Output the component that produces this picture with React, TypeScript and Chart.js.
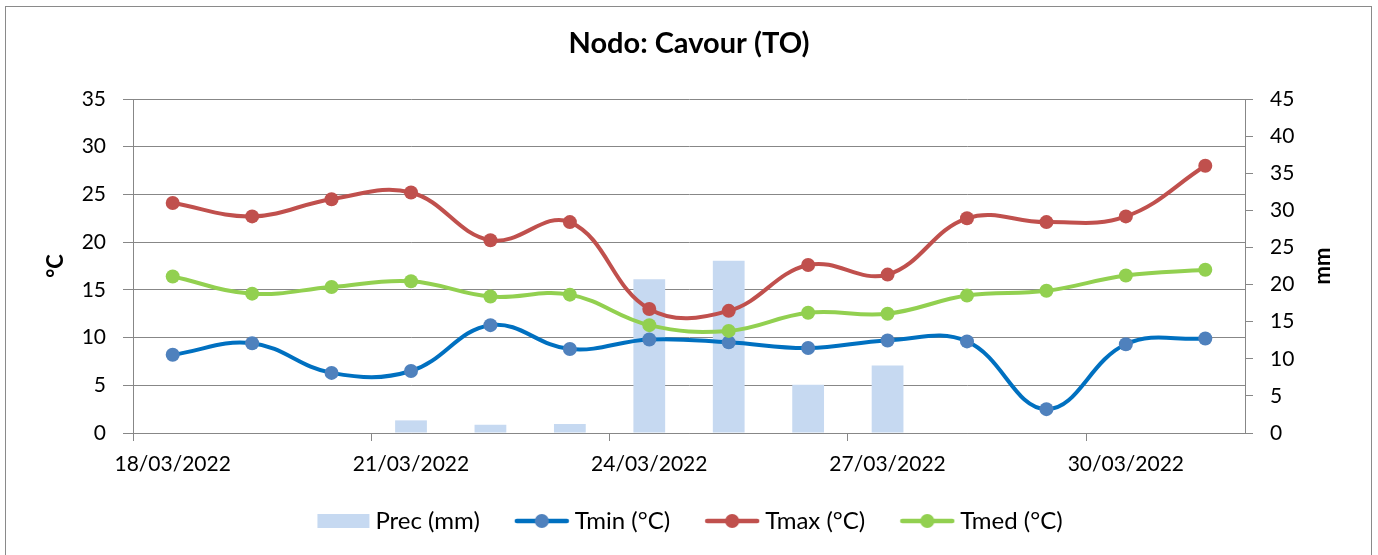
import React, { useEffect, useRef } from 'react';
import { Chart, registerables } from 'chart.js';

Chart.register(...registerables);

// ---- Data ----
const dates = [
  '18/03/2022', '19/03/2022', '20/03/2022', '21/03/2022', '22/03/2022', '23/03/2022', '24/03/2022',
  '25/03/2022', '26/03/2022', '27/03/2022', '28/03/2022', '29/03/2022', '30/03/2022', '31/03/2022',
];
const labelIndices = [0, 3, 6, 9, 12];
const precMm = [0, 0, 0, 1.7, 1.1, 1.2, 20.7, 23.2, 6.5, 9.1, 0, 0, 0, 0];
const tminC = [8.2, 9.4, 6.3, 6.5, 11.3, 8.8, 9.8, 9.5, 8.9, 9.7, 9.6, 2.5, 9.3, 9.9];
const tmaxC = [24.1, 22.7, 24.5, 25.2, 20.2, 22.1, 13.0, 12.8, 17.6, 16.6, 22.5, 22.1, 22.7, 28.0];
const tmedC = [16.4, 14.6, 15.3, 15.9, 14.3, 14.5, 11.3, 10.7, 12.6, 12.5, 14.4, 14.9, 16.5, 17.1];

const titleText = 'Nodo: Cavour (TO)';
const seriesLabels = ['Prec (mm)', 'Tmin (°C)', 'Tmax (°C)', 'Tmed (°C)'];
const leftAxisTitle = '°C';
const rightAxisTitle = 'mm';

// ---- Styles ----
const FONT = 'Lato';
const GRID = '#878787';
const BAR_COLOR = '#C6D9F1';
const TMIN_LINE = '#0070C0';
const TMIN_MARK = '#4F81BD';
const TMAX_LINE = '#C0504D';
const TMAX_MARK = '#C0504D';
const TMED_LINE = '#92D050';
const TMED_MARK = '#92D050';

// legend icon canvas: 62 wide, visible symbol in the right part (offset 6)
function makeLineIcon(line: string, mark: string): HTMLCanvasElement {
  const c = document.createElement('canvas');
  c.width = 62;
  c.height = 22;
  const ctx = c.getContext('2d')!;
  ctx.strokeStyle = line;
  ctx.lineWidth = 4.5;
  ctx.lineCap = 'round';
  ctx.beginPath();
  ctx.moveTo(9, 11);
  ctx.lineTo(59, 11);
  ctx.stroke();
  ctx.fillStyle = mark;
  ctx.beginPath();
  ctx.arc(34, 11, 7, 0, Math.PI * 2);
  ctx.fill();
  return c;
}

function makeBarIcon(color: string): HTMLCanvasElement {
  const c = document.createElement('canvas');
  c.width = 62;
  c.height = 22;
  const ctx = c.getContext('2d')!;
  ctx.fillStyle = color;
  ctx.fillRect(9, 4, 52, 14);
  return c;
}

const toXY = (arr: number[]) => arr.map((v, i) => ({ x: i, y: v }));

export default function App() {
  const canvasRef = useRef<HTMLCanvasElement | null>(null);

  useEffect(() => {
    document.body.style.margin = '0';
    const canvas = canvasRef.current;
    if (!canvas) return;

    const icons = [
      makeBarIcon(BAR_COLOR),
      makeLineIcon(TMIN_LINE, TMIN_MARK),
      makeLineIcon(TMAX_LINE, TMAX_MARK),
      makeLineIcon(TMED_LINE, TMED_MARK),
    ];

    const frame = {
      id: 'frameAndTitles',
      beforeDraw(chart: any) {
        const ctx = chart.ctx;
        ctx.save();
        ctx.fillStyle = '#ffffff';
        ctx.fillRect(0, 0, chart.width, chart.height);
        ctx.strokeStyle = '#8a8a8a';
        ctx.lineWidth = 1;
        ctx.strokeRect(5.5, 6.5, 1366, 600);
        ctx.restore();
      },
      afterDraw(chart: any) {
        const ctx = chart.ctx;
        const area = chart.chartArea;
        const cy = (area.top + area.bottom) / 2;
        ctx.save();
        ctx.fillStyle = '#000';
        ctx.font = `bold 22px ${FONT}`;
        ctx.textAlign = 'center';
        ctx.textBaseline = 'middle';
        ctx.translate(56, cy);
        ctx.rotate(-Math.PI / 2);
        ctx.fillText(leftAxisTitle, 0, 0);
        ctx.restore();
        ctx.save();
        ctx.fillStyle = '#000';
        ctx.font = `bold 22px ${FONT}`;
        ctx.textAlign = 'center';
        ctx.textBaseline = 'middle';
        ctx.translate(1323, cy);
        ctx.rotate(-Math.PI / 2);
        ctx.fillText(rightAxisTitle, 0, 0);
        ctx.restore();
      },
    };

    const tickFont = { family: FONT, size: 21 };
    const lineCommon = {
      type: 'line' as const,
      yAxisID: 'y',
      xAxisID: 'x',
      borderWidth: 4,
      pointRadius: 7,
      pointHoverRadius: 7,
      pointBorderWidth: 0,
      tension: 0.4,
      fill: false,
    };

    const chart = new Chart(canvas, {
      type: 'bar',
      data: {
        datasets: [
          {
            type: 'bar',
            label: seriesLabels[0],
            data: toXY(precMm),
            backgroundColor: BAR_COLOR,
            borderWidth: 0,
            yAxisID: 'y1',
            xAxisID: 'x',
            categoryPercentage: 1,
            barPercentage: 0.4,
            order: 4,
          } as any,
          {
            ...lineCommon,
            label: seriesLabels[1],
            data: toXY(tminC),
            borderColor: TMIN_LINE,
            backgroundColor: TMIN_MARK,
            pointBackgroundColor: TMIN_MARK,
            pointBorderColor: TMIN_MARK,
            order: 3,
          } as any,
          {
            ...lineCommon,
            label: seriesLabels[2],
            data: toXY(tmaxC),
            borderColor: TMAX_LINE,
            backgroundColor: TMAX_MARK,
            pointBackgroundColor: TMAX_MARK,
            pointBorderColor: TMAX_MARK,
            order: 2,
          } as any,
          {
            ...lineCommon,
            label: seriesLabels[3],
            data: toXY(tmedC),
            borderColor: TMED_LINE,
            backgroundColor: TMED_MARK,
            pointBackgroundColor: TMED_MARK,
            pointBorderColor: TMED_MARK,
            order: 1,
          } as any,
        ],
      },
      options: {
        responsive: false,
        animation: false,
        devicePixelRatio: 1,
        layout: { padding: { top: 0, left: 0, right: 0, bottom: 12 } },
        plugins: {
          tooltip: { enabled: false },
          title: {
            display: true,
            text: titleText,
            color: '#000',
            font: { family: FONT, size: 29, weight: 'bold', lineHeight: 1.2 },
            padding: { top: 26, bottom: 38.2 },
          },
          legend: {
            position: 'bottom',
            labels: {
              usePointStyle: true,
              pointStyleWidth: 48,
              padding: 35,
              color: '#000',
              font: { family: FONT, size: 24 },
              sort: (a: any, b: any) => a.datasetIndex - b.datasetIndex,
              generateLabels: (ch: any) => {
                const items = (Chart.defaults.plugins.legend.labels as any).generateLabels(ch);
                return items.map((it: any) => ({ ...it, pointStyle: icons[it.datasetIndex] }));
              },
            },
          },
        },
        scales: {
          x: {
            type: 'linear',
            offset: false,
            min: -0.5,
            max: dates.length - 0.5,
            afterBuildTicks: (scale: any) => {
              scale.ticks = labelIndices.map((i) => ({ value: i - 0.5 }));
            },
            afterFit: (scale: any) => {
              scale.height = 41;
            },
            ticks: {
              autoSkip: false,
              maxRotation: 0,
              minRotation: 0,
              labelOffset: 39.7,
              padding: 11,
              color: '#000',
              font: tickFont,
              callback: (_v: any, i: number) => dates[labelIndices[i]],
            },
            grid: { offset: false, drawOnChartArea: false, drawTicks: true, tickLength: 8, color: GRID },
            border: { color: GRID },
          },
          y: {
            position: 'left',
            min: 0,
            max: 35,
            afterFit: (scale: any) => {
              scale.width = 133;
            },
            ticks: { stepSize: 5, padding: 17, color: '#000', font: tickFont },
            grid: { color: GRID, tickLength: 10 },
            border: { color: GRID },
          },
          y1: {
            position: 'right',
            min: 0,
            max: 45,
            afterFit: (scale: any) => {
              scale.width = 133;
            },
            ticks: { stepSize: 5, padding: 17, color: '#000', font: tickFont },
            grid: { drawOnChartArea: false, tickLength: 8, color: GRID },
            border: { color: GRID },
          },
        },
      } as any,
      plugins: [frame],
    });

    return () => {
      chart.destroy();
    };
  }, []);

  return (
    <canvas ref={canvasRef} width={1378} height={555} style={{ display: 'block', width: 1378, height: 555 }} />
  );
}
